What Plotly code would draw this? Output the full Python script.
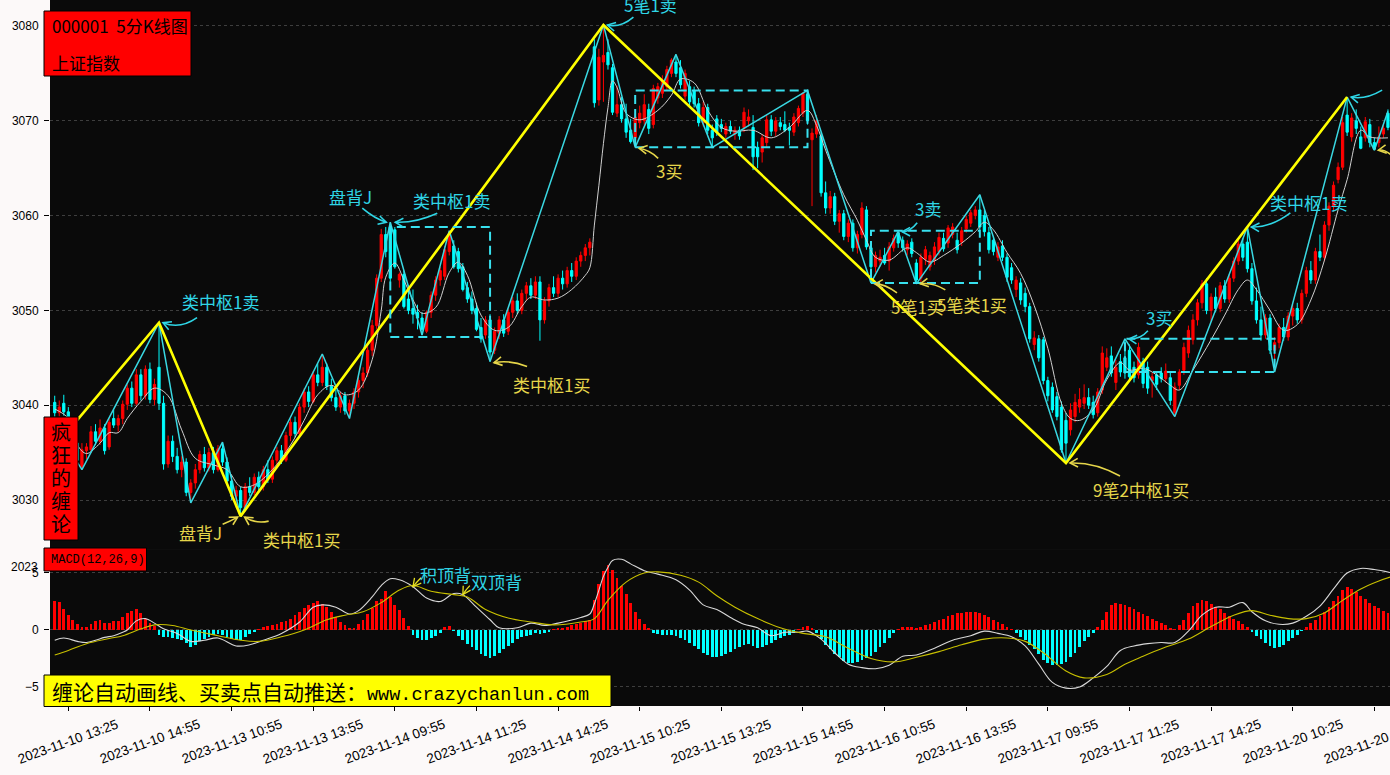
import math
import plotly.graph_objects as go

# ---------------- data ----------------
tick_labels = ["2023-11-10 13:25", "2023-11-10 14:55", "2023-11-13 10:55", "2023-11-13 13:55",
               "2023-11-14 09:55", "2023-11-14 11:25", "2023-11-14 14:25", "2023-11-15 10:25",
               "2023-11-15 13:25", "2023-11-15 14:55", "2023-11-16 10:55", "2023-11-16 13:55",
               "2023-11-17 09:55", "2023-11-17 11:25", "2023-11-17 14:25", "2023-11-20 10:25",
               "2023-11-20 13:25"]

opens = [
    3040.3, 3039.2, 3040.2, 3039.3, 3037.8, 3036.0, 3033.5, 3035.2, 3035.3, 3037.2,
    3036.2, 3037.6, 3035.6, 3038.6, 3037.9, 3038.6, 3040.1, 3041.8, 3040.2, 3043.2,
    3041.0, 3043.8, 3040.6, 3044.0, 3040.2, 3033.8, 3036.2, 3034.6, 3033.2, 3034.0,
    3030.8, 3031.8, 3033.2, 3034.8, 3033.4, 3035.0, 3033.2, 3035.4, 3034.0, 3032.0,
    3030.4, 3031.0, 3029.2, 3031.4, 3030.8, 3032.4, 3031.4, 3033.2, 3032.2, 3034.2,
    3035.2, 3034.2, 3036.8, 3038.2, 3037.0, 3039.8, 3041.4, 3040.4, 3043.2, 3042.4,
    3044.0, 3042.0, 3040.8, 3039.8, 3041.0, 3039.4, 3040.2, 3041.4, 3042.6, 3043.4,
    3045.8, 3048.4, 3053.4, 3058.0, 3058.8, 3058.5, 3053.2, 3053.8, 3051.2, 3050.2,
    3049.8, 3049.2, 3047.8, 3049.8, 3051.6, 3053.2, 3053.6, 3056.2, 3056.8, 3056.2,
    3054.6, 3052.4, 3051.2, 3050.2, 3048.2, 3047.4, 3049.0, 3045.8, 3047.6, 3049.0,
    3047.8, 3049.8, 3051.0, 3050.0, 3051.8, 3052.6, 3051.6, 3053.0, 3049.0, 3051.0,
    3052.4, 3051.8, 3053.4, 3052.8, 3054.2, 3053.6, 3055.2, 3055.8, 3056.6, 3077.8,
    3072.2, 3076.2, 3077.2, 3075.6, 3070.8, 3071.7, 3070.2, 3069.0, 3068.2, 3069.8,
    3070.0, 3071.2, 3069.6, 3072.4, 3072.9, 3073.6, 3075.0, 3076.2, 3075.6, 3072.6,
    3073.6, 3073.2, 3071.8, 3069.8, 3071.4, 3069.0, 3070.2, 3069.6, 3068.6, 3069.4,
    3068.6, 3069.0, 3069.3, 3070.0, 3069.3, 3067.2, 3066.7, 3067.7, 3070.1, 3068.9,
    3069.8, 3069.6, 3069.3, 3068.8, 3069.8, 3070.8, 3072.8, 3068.0, 3068.6, 3068.4,
    3062.4, 3060.8, 3062.0, 3059.4, 3060.2, 3057.8, 3059.2, 3056.6, 3058.0, 3060.6,
    3056.6, 3054.6, 3055.2, 3055.8, 3055.2, 3056.6, 3058.2, 3057.4, 3056.4, 3057.2,
    3055.0, 3053.4, 3055.4, 3054.6, 3055.3, 3056.2, 3057.6, 3057.1, 3058.0, 3057.4,
    3057.2, 3058.6, 3059.2, 3060.0, 3060.6, 3060.0, 3058.2, 3057.4, 3055.6, 3056.8,
    3055.6, 3054.5, 3052.2, 3052.9, 3051.8, 3050.4, 3046.4, 3047.0, 3046.9, 3042.6,
    3041.9, 3040.9, 3039.8, 3038.4, 3037.4, 3038.8, 3039.8, 3040.2, 3040.8, 3040.3,
    3039.2, 3041.6, 3044.0, 3045.2, 3042.4, 3044.6, 3045.0, 3045.8, 3044.0, 3043.2,
    3044.6, 3044.0, 3042.6, 3043.2, 3043.4, 3042.8, 3042.9, 3039.2, 3042.1, 3043.7,
    3045.5, 3046.9, 3049.0, 3050.8, 3052.8, 3050.0, 3051.4, 3050.2, 3052.6, 3051.2,
    3053.4, 3055.2, 3057.0, 3057.2, 3054.4, 3051.0, 3049.0, 3047.4, 3049.2, 3045.8,
    3046.6, 3048.2, 3047.2, 3049.4, 3050.2, 3049.0, 3051.8, 3054.2, 3053.2, 3056.2,
    3055.6, 3059.0, 3061.0, 3063.8, 3065.1, 3070.6, 3068.3, 3070.0, 3068.3, 3068.2,
    3069.6, 3067.7, 3067.7, 3068.6, 3070.8, 3069.3]

highs = [
    3041.0, 3040.5, 3041.1, 3039.8, 3038.2, 3036.4, 3036.0, 3036.0, 3037.8, 3038.0,
    3038.5, 3038.0, 3038.6, 3039.5, 3039.0, 3040.5, 3042.2, 3042.5, 3043.8, 3043.8,
    3044.2, 3044.5, 3042.8, 3048.7, 3041.0, 3036.8, 3036.8, 3035.5, 3034.6, 3034.4,
    3032.2, 3033.8, 3035.2, 3035.6, 3035.5, 3035.6, 3035.8, 3036.1, 3034.5, 3032.6,
    3031.5, 3031.4, 3031.8, 3032.4, 3032.8, 3033.0, 3033.6, 3034.2, 3034.6, 3035.6,
    3035.8, 3037.2, 3038.6, 3038.8, 3040.2, 3041.8, 3042.0, 3043.6, 3044.4, 3045.4,
    3044.4, 3042.8, 3041.6, 3041.4, 3041.4, 3040.6, 3041.8, 3043.0, 3044.0, 3046.2,
    3049.0, 3053.8, 3058.6, 3058.8, 3059.3, 3058.8, 3054.0, 3054.2, 3052.6, 3052.2,
    3050.6, 3049.8, 3050.0, 3052.0, 3053.6, 3054.6, 3056.8, 3058.4, 3057.4, 3056.6,
    3055.0, 3053.0, 3052.0, 3050.8, 3049.2, 3049.4, 3049.6, 3048.2, 3049.4, 3049.6,
    3050.2, 3051.4, 3051.8, 3052.2, 3053.0, 3053.4, 3053.6, 3053.6, 3051.4, 3052.8,
    3053.6, 3053.8, 3054.2, 3054.6, 3055.0, 3055.6, 3056.2, 3057.0, 3057.6, 3078.6,
    3077.6, 3080.1, 3078.6, 3076.0, 3073.7, 3072.5, 3071.8, 3070.2, 3070.8, 3071.6,
    3072.8, 3071.8, 3073.8, 3074.0, 3074.8, 3075.8, 3076.6, 3077.0, 3076.4, 3075.4,
    3074.2, 3073.6, 3072.4, 3072.0, 3071.8, 3069.6, 3070.6, 3070.2, 3069.8, 3070.0,
    3069.4, 3069.4, 3071.4, 3071.2, 3070.6, 3067.8, 3068.6, 3070.6, 3070.6, 3070.4,
    3070.4, 3071.0, 3069.8, 3070.8, 3071.6, 3073.0, 3073.2, 3069.2, 3070.6, 3068.8,
    3063.6, 3062.6, 3062.4, 3060.6, 3060.6, 3059.6, 3059.6, 3058.4, 3061.4, 3061.0,
    3057.0, 3056.2, 3056.4, 3056.6, 3057.2, 3058.0, 3058.3, 3057.8, 3057.4, 3057.6,
    3055.4, 3056.0, 3056.8, 3056.2, 3057.2, 3058.2, 3058.2, 3059.0, 3059.2, 3058.2,
    3058.8, 3060.0, 3060.6, 3061.0, 3062.2, 3060.6, 3058.8, 3057.8, 3057.2, 3057.4,
    3056.0, 3055.0, 3053.6, 3053.4, 3052.4, 3050.8, 3047.8, 3047.4, 3047.2, 3043.0,
    3042.4, 3041.4, 3040.4, 3039.2, 3040.2, 3041.2, 3041.8, 3042.2, 3041.8, 3041.0,
    3041.8, 3046.2, 3046.0, 3046.2, 3044.8, 3045.4, 3047.0, 3046.4, 3044.6, 3046.6,
    3045.0, 3044.6, 3043.4, 3043.6, 3044.0, 3044.4, 3043.4, 3042.4, 3043.8, 3046.6,
    3048.4, 3049.6, 3051.2, 3053.2, 3053.4, 3051.8, 3052.4, 3053.0, 3053.2, 3053.8,
    3055.6, 3057.4, 3057.6, 3058.8, 3055.0, 3052.4, 3050.4, 3049.6, 3049.6, 3047.2,
    3048.6, 3049.2, 3049.8, 3050.6, 3050.8, 3052.2, 3054.6, 3055.2, 3056.6, 3058.0,
    3059.4, 3061.4, 3063.6, 3065.6, 3070.4, 3072.5, 3070.8, 3071.2, 3069.4, 3070.4,
    3070.2, 3068.2, 3069.4, 3069.6, 3071.2, 3070.8]

lows = [
    3038.8, 3038.8, 3038.9, 3037.5, 3035.8, 3033.8, 3033.2, 3034.3, 3035.0, 3035.8,
    3035.8, 3034.8, 3035.3, 3037.6, 3037.2, 3038.0, 3039.5, 3039.8, 3040.0, 3040.5,
    3040.6, 3040.2, 3040.0, 3039.5, 3033.2, 3033.4, 3034.0, 3032.8, 3032.4, 3030.4,
    3029.7, 3031.2, 3032.8, 3033.0, 3033.0, 3032.8, 3033.0, 3033.6, 3031.6, 3030.0,
    3029.2, 3028.3, 3028.8, 3030.4, 3030.5, 3031.0, 3031.0, 3031.8, 3031.8, 3033.6,
    3033.8, 3034.0, 3036.2, 3036.6, 3036.8, 3039.2, 3039.8, 3040.2, 3042.0, 3042.0,
    3041.6, 3040.4, 3039.4, 3039.2, 3039.0, 3038.6, 3039.6, 3040.8, 3041.8, 3043.0,
    3045.2, 3048.0, 3053.0, 3055.6, 3053.0, 3054.4, 3052.4, 3050.2, 3049.6, 3048.6,
    3048.0, 3047.4, 3047.6, 3049.2, 3051.0, 3052.6, 3053.2, 3055.8, 3054.4, 3054.0,
    3052.0, 3050.8, 3049.6, 3047.8, 3046.6, 3047.0, 3044.6, 3045.4, 3047.0, 3047.2,
    3047.4, 3049.2, 3049.6, 3049.6, 3051.0, 3051.2, 3051.2, 3046.8, 3048.6, 3050.4,
    3051.4, 3051.4, 3052.2, 3052.4, 3053.0, 3053.2, 3054.6, 3055.2, 3055.8, 3071.4,
    3071.6, 3072.0, 3075.4, 3070.6, 3070.4, 3069.8, 3068.2, 3067.6, 3067.2, 3069.2,
    3069.6, 3068.6, 3069.2, 3071.8, 3072.4, 3073.2, 3074.6, 3074.6, 3073.4, 3072.2,
    3071.6, 3071.4, 3069.4, 3069.4, 3068.6, 3067.2, 3068.4, 3068.8, 3068.2, 3068.6,
    3068.0, 3068.0, 3068.8, 3069.4, 3064.8, 3065.0, 3065.6, 3067.2, 3068.4, 3068.4,
    3069.0, 3068.8, 3067.4, 3068.4, 3069.4, 3070.4, 3069.6, 3061.0, 3068.2, 3062.0,
    3060.2, 3060.2, 3059.0, 3058.2, 3057.4, 3057.2, 3056.2, 3056.0, 3057.6, 3056.4,
    3052.9, 3054.0, 3054.6, 3054.8, 3054.2, 3056.2, 3056.6, 3056.2, 3055.8, 3055.6,
    3052.8, 3053.0, 3054.8, 3054.2, 3054.8, 3055.8, 3056.2, 3056.6, 3057.6, 3056.0,
    3056.8, 3058.2, 3058.8, 3059.6, 3058.4, 3057.8, 3056.0, 3055.8, 3055.2, 3055.2,
    3053.0, 3052.8, 3051.4, 3050.6, 3049.8, 3046.6, 3045.8, 3044.6, 3042.2, 3040.4,
    3039.2, 3038.4, 3035.0, 3033.9, 3036.8, 3038.2, 3039.2, 3039.6, 3039.6, 3038.6,
    3038.8, 3041.2, 3043.6, 3043.0, 3041.6, 3043.0, 3042.8, 3042.6, 3042.4, 3042.8,
    3041.8, 3041.2, 3040.8, 3041.6, 3042.4, 3042.4, 3040.0, 3038.8, 3041.6, 3043.2,
    3045.0, 3046.4, 3048.4, 3050.2, 3049.6, 3048.8, 3049.8, 3049.8, 3050.8, 3050.8,
    3053.0, 3054.8, 3055.2, 3054.0, 3050.6, 3048.6, 3046.8, 3047.0, 3045.4, 3043.5,
    3046.0, 3046.8, 3046.8, 3048.4, 3048.6, 3048.6, 3051.4, 3052.8, 3052.8, 3055.2,
    3055.2, 3058.4, 3060.4, 3063.4, 3064.8, 3068.4, 3067.8, 3068.6, 3067.0, 3067.8,
    3067.2, 3066.9, 3067.2, 3068.2, 3069.0, 3069.0]

closes = [
    3039.2, 3039.8, 3039.3, 3037.8, 3036.0, 3034.2, 3035.3, 3035.6, 3037.2, 3036.2,
    3037.6, 3035.2, 3038.2, 3037.9, 3038.6, 3040.1, 3041.8, 3040.2, 3043.2, 3041.0,
    3043.8, 3040.6, 3042.2, 3040.2, 3033.8, 3036.2, 3034.6, 3033.2, 3034.0, 3030.8,
    3031.8, 3033.2, 3034.8, 3033.4, 3035.0, 3033.2, 3035.4, 3034.0, 3032.0, 3030.4,
    3031.0, 3029.2, 3031.4, 3030.8, 3032.4, 3031.4, 3033.2, 3032.2, 3034.2, 3035.2,
    3034.2, 3036.8, 3038.2, 3037.0, 3039.8, 3041.4, 3040.4, 3043.2, 3042.4, 3044.0,
    3042.0, 3040.8, 3039.8, 3041.0, 3039.4, 3040.2, 3041.4, 3042.6, 3043.4, 3045.8,
    3048.4, 3053.4, 3058.0, 3056.2, 3053.4, 3054.6, 3053.8, 3050.4, 3050.0, 3049.6,
    3049.2, 3048.0, 3049.8, 3051.6, 3053.2, 3054.2, 3056.4, 3058.0, 3054.6, 3054.4,
    3052.2, 3051.2, 3050.0, 3048.0, 3047.0, 3049.0, 3045.6, 3047.8, 3049.0, 3047.6,
    3049.8, 3051.0, 3050.0, 3051.8, 3052.6, 3051.6, 3053.0, 3049.0, 3051.0, 3052.4,
    3051.8, 3053.4, 3052.8, 3054.2, 3053.6, 3055.2, 3055.8, 3056.6, 3057.2, 3071.9,
    3076.7, 3076.9, 3075.9, 3070.9, 3071.7, 3070.2, 3068.8, 3067.8, 3070.4, 3070.8,
    3071.7, 3069.2, 3073.4, 3073.6, 3074.3, 3075.4, 3076.4, 3075.0, 3073.8, 3075.0,
    3072.0, 3071.8, 3069.8, 3071.4, 3069.0, 3068.2, 3068.8, 3069.2, 3069.4, 3068.9,
    3069.0, 3068.4, 3070.9, 3070.4, 3066.2, 3066.2, 3068.2, 3070.1, 3068.9, 3070.0,
    3069.4, 3069.0, 3069.0, 3070.4, 3071.3, 3072.9, 3070.0, 3068.7, 3070.0, 3062.4,
    3060.8, 3062.0, 3059.4, 3060.2, 3057.8, 3059.2, 3056.6, 3058.0, 3060.8, 3056.7,
    3054.6, 3055.8, 3055.6, 3055.0, 3056.7, 3057.6, 3057.1, 3056.6, 3057.0, 3056.0,
    3053.2, 3055.6, 3056.4, 3055.8, 3056.7, 3057.7, 3056.5, 3058.7, 3058.8, 3056.4,
    3058.4, 3059.6, 3060.3, 3060.6, 3058.8, 3058.3, 3056.4, 3056.2, 3056.7, 3055.6,
    3053.5, 3053.2, 3053.2, 3051.1, 3050.4, 3047.0, 3047.1, 3045.0, 3042.6, 3041.0,
    3039.5, 3038.8, 3035.3, 3036.0, 3039.5, 3040.3, 3040.6, 3040.8, 3040.0, 3039.0,
    3041.4, 3045.5, 3045.0, 3043.4, 3044.0, 3043.5, 3043.4, 3043.0, 3042.9, 3046.1,
    3042.3, 3041.8, 3043.0, 3042.2, 3042.8, 3043.6, 3040.5, 3041.9, 3043.5, 3046.1,
    3047.9, 3049.0, 3050.8, 3052.8, 3050.0, 3051.4, 3050.2, 3052.6, 3051.2, 3053.4,
    3055.2, 3057.0, 3055.6, 3054.4, 3051.0, 3049.0, 3047.4, 3049.2, 3045.8, 3046.6,
    3048.2, 3047.2, 3049.4, 3050.2, 3049.0, 3051.8, 3054.2, 3053.2, 3056.2, 3055.6,
    3059.0, 3061.0, 3063.2, 3065.1, 3069.8, 3068.8, 3070.3, 3069.2, 3067.1, 3069.9,
    3067.7, 3067.0, 3068.3, 3069.2, 3069.3, 3070.4]

# 5-bar moving average at sample bars
ma5_idx = [0, 3, 5, 7, 10, 12, 14, 16, 19, 22, 25, 28, 31, 35, 38, 41, 44, 48, 52, 55, 58, 61, 64, 67,
           70, 72, 73, 75, 77, 79, 81, 84, 87, 89, 91, 94, 97, 100, 103, 105, 108, 111, 114, 117, 118,
           119, 120, 121, 122, 123, 124, 126, 129, 133, 136, 138, 141, 144, 147, 150, 154, 158, 162,
           166, 168, 170, 174, 177, 179, 181, 184, 188, 190, 193, 196, 200, 203, 205, 207, 210, 213,
           216, 219, 222, 224, 226, 229, 232, 235, 237, 240, 243, 246, 248, 251, 255, 258, 261, 263,
           265, 268, 271, 274, 277, 280, 283, 285, 288, 290, 294]
ma5_val = [3039.6, 3038.6, 3035.8, 3034.9, 3036.0, 3037.1, 3037.1, 3038.6, 3040.4, 3041.8, 3041.0,
           3037.4, 3034.4, 3033.7, 3033.2, 3031.4, 3031.6, 3033.2, 3035.8, 3038.4, 3041.1, 3042.1,
           3041.1, 3041.6, 3044.8, 3050.0, 3053.5, 3055.0, 3053.2, 3051.1, 3049.7, 3050.3, 3054.0,
           3055.1, 3053.7, 3049.5, 3047.9, 3048.2, 3050.4, 3051.4, 3051.1, 3051.3, 3052.2, 3053.7,
           3054.5, 3059.0, 3063.2, 3067.6, 3071.4, 3074.2, 3073.5, 3070.8, 3070.1, 3071.1, 3072.7,
           3074.4, 3074.0, 3071.1, 3069.3, 3068.9, 3069.0, 3068.2, 3069.3, 3071.1, 3069.5, 3066.9,
           3062.2, 3059.5, 3057.4, 3055.6, 3055.3, 3056.6, 3056.1, 3055.1, 3055.8, 3057.1, 3058.3,
           3059.3, 3058.5, 3056.1, 3053.9, 3050.5, 3046.0, 3040.2, 3038.6, 3038.4, 3039.5, 3042.7,
           3044.5, 3043.7, 3043.9, 3043.2, 3042.1, 3041.6, 3043.7, 3046.9, 3049.5, 3052.2, 3053.2,
           3052.2, 3050.0, 3047.9, 3048.5, 3051.1, 3055.3, 3060.6, 3063.8, 3069.0, 3068.3, 3068.2]

# strokes (bi) and segments (xianduan)
bi_idx = [0, 6, 23, 30, 37, 41, 59, 65, 74, 81, 87, 96, 121, 128, 137, 145, 166, 180, 186, 190,
          204, 223, 236, 247, 263, 269, 285, 291, 294]
bi_val = [3037.8, 3033.2, 3048.7, 3029.7, 3036.1, 3028.3, 3045.4, 3038.6, 3059.3, 3047.4, 3058.4,
          3044.6, 3080.1, 3067.2, 3077.0, 3067.2, 3073.2, 3052.9, 3058.3, 3052.8, 3062.2, 3033.9,
          3047.0, 3038.8, 3058.8, 3043.5, 3072.5, 3066.9, 3071.0]
seg_idx = [0, 23, 41, 121, 223, 285]
seg_val = [3035.6, 3048.7, 3028.3, 3080.1, 3033.9, 3072.5]

# pivot zones (zhongshu)
zs_x0 = [74, 128, 180, 236]
zs_x1 = [96, 166, 204, 269]
zs_lo = [3047.2, 3067.2, 3052.9, 3043.5]
zs_hi = [3058.8, 3073.2, 3058.4, 3047.0]

# MACD(12,26,9)
macd_hist = [
    2.57, 2.45, 1.84, 1.3, 0.88, 0.5, 0.26, 0.3, 0.5, 0.8,
    0.85, 0.65, 0.65, 0.8, 0.8, 1.15, 1.5, 1.7, 1.8, 1.45,
    0.95, 0.6, 0.35, -0.4, -0.6, -0.6, -0.7, -0.8, -0.9, -1.1,
    -1.5, -1.3, -1.0, -0.8, -0.6, -0.45, -0.35, -0.45, -0.6, -0.75,
    -0.9, -0.85, -0.6, -0.35, -0.15, 0.1, 0.25, 0.35, 0.45, 0.55,
    0.7, 0.8, 1.0, 1.3, 1.6, 1.9, 2.2, 2.4, 2.5, 2.3,
    2.0, 1.6, 1.1, 0.7, 0.4, 0.2, 0.2, 0.5, 0.9, 1.4,
    1.9, 2.5, 2.7, 3.4, 2.9, 2.2, 1.75, 1.05, 0.35, -0.45,
    -0.7, -0.9, -0.85, -0.7, -0.5, -0.3, 0.25, 0.35, -0.1, -0.5,
    -0.9, -1.2, -1.5, -1.8, -2.1, -2.3, -2.5, -2.3, -2.0, -1.7,
    -1.4, -1.1, -0.8, -0.6, -0.5, -0.4, -0.3, -0.35, -0.3, -0.15,
    0.05, 0.15, 0.2, 0.3, 0.4, 0.5, 0.6, 0.75, 0.9, 2.6,
    4.0, 5.2, 5.7, 5.3, 4.6, 3.9, 3.2, 2.4, 1.6, 1.0,
    0.5, 0.15, -0.3, -0.35, -0.4, -0.4, -0.45, -0.5, -0.7, -0.9,
    -1.1, -1.4, -1.7, -2.0, -2.2, -2.4, -2.4, -2.3, -2.1, -1.9,
    -1.7, -1.5, -1.3, -1.2, -1.4, -1.6, -1.5, -1.3, -1.1, -0.9,
    -0.7, -0.55, -0.45, -0.25, 0.1, 0.3, 0.35, 0.2, -0.3, -0.8,
    -1.3, -1.7, -2.1, -2.4, -2.7, -2.9, -2.9, -2.8, -2.6, -2.5,
    -2.3, -1.9, -1.5, -1.1, -0.7, -0.3, 0.1, 0.25, 0.3, 0.3,
    0.2, 0.3, 0.45, 0.55, 0.7, 0.9, 1.0, 1.2, 1.35, 1.45,
    1.5, 1.55, 1.6, 1.6, 1.5, 1.3, 1.1, 0.9, 0.7, 0.5,
    0.3, 0.1, -0.3, -0.6, -0.9, -1.3, -1.7, -2.1, -2.6, -2.9,
    -3.1, -3.1, -3.0, -2.8, -2.4, -2.0, -1.5, -1.0, -0.6, -0.3,
    0.3, 0.9, 1.6, 2.2, 2.4, 2.3, 2.2, 2.0, 1.8, 1.6,
    1.4, 1.2, 1.0, 0.8, 0.6, 0.4, 0.2, 0.1, 0.4, 0.9,
    1.5, 2.1, 2.4, 2.6, 2.5, 2.3, 2.0, 1.8, 1.5, 1.2,
    1.0, 0.8, 0.5, 0.3, -0.2, -0.5, -0.8, -1.1, -1.4, -1.6,
    -1.5, -1.3, -1.0, -0.7, -0.4, -0.1, 0.3, 0.6, 0.9, 1.2,
    1.6, 2.0, 2.5, 3.0, 3.5, 3.8, 3.6, 3.3, 3.0, 2.7,
    2.4, 2.1, 1.9, 1.7, 1.5, 1.4]

dif_idx = [0, 2, 5, 7, 9, 11, 13, 15, 16, 18, 20, 22, 24, 27, 30, 33, 36, 40, 43, 46, 50, 54, 57, 59,
           62, 65, 67, 70, 72, 74, 76, 79, 82, 85, 88, 90, 93, 96, 98, 102, 105, 108, 111, 116, 118,
           119, 120, 121, 122, 123, 125, 127, 130, 133, 137, 140, 143, 146, 149, 152, 155, 158, 161,
           164, 166, 169, 172, 175, 178, 181, 184, 187, 190, 194, 198, 202, 205, 208, 211, 214, 217,
           220, 223, 226, 229, 232, 235, 238, 241, 244, 247, 250, 253, 256, 259, 262, 264, 267, 270,
           273, 276, 279, 282, 285, 288, 291, 295]
dif_val = [-0.9, -0.7, -1.0, -1.1, -0.9, -0.65, -0.5, -0.2, 0.0, 0.8, 1.0, 0.6, 0.1, -0.3, -1.0, -0.9,
           -0.7, -1.4, -1.3, -0.9, -0.3, 0.7, 2.0, 2.2, 2.0, 1.4, 1.7, 2.9, 3.9, 4.5, 4.4, 3.8, 2.8, 2.5,
           3.2, 3.1, 2.0, 0.9, 0.2, 0.2, 0.6, 0.4, 0.6, 1.1, 1.4, 2.3, 3.5, 4.7, 5.5, 6.1, 6.2, 5.8, 5.2,
           4.9, 4.4, 3.5, 2.2, 1.8, 1.1, 0.5, 0.2, -0.5, -0.2, -0.2, -0.1, -0.8, -2.0, -3.0, -3.3, -3.4,
           -3.1, -2.3, -2.2, -1.6, -0.9, -0.5, -0.1, -0.3, -0.6, -1.4, -3.0, -4.6, -5.1, -5.0, -4.2,
           -3.2, -1.8, -1.4, -1.2, -1.1, -1.1, -0.1, 1.3, 2.0, 2.0, 2.4, 1.6, 0.8, 0.5, 0.6, 1.2, 2.1,
           3.6, 5.0, 5.4, 5.3, 5.0]
dea_idx = [0, 3, 7, 12, 15, 19, 22, 26, 30, 36, 41, 45, 50, 55, 60, 64, 68, 72, 76, 79, 83, 88, 91,
           95, 100, 105, 110, 116, 119, 122, 126, 130, 133, 138, 142, 146, 150, 155, 160, 165, 170,
           175, 180, 185, 190, 195, 200, 205, 210, 214, 218, 223, 227, 232, 236, 240, 245, 250, 255,
           260, 264, 268, 272, 276, 280, 284, 288, 292, 295]
dea_val = [-2.2, -1.8, -1.2, -0.75, -0.5, 0.1, 0.45, 0.4, 0.0, -0.5, -0.9, -1.0, -0.6, 0.0, 0.9, 1.3,
           1.6, 2.4, 3.5, 3.9, 3.4, 3.1, 2.9, 1.8, 1.05, 0.7, 0.45, 0.7, 1.0, 2.6, 4.2, 5.0, 5.1, 4.8,
           4.2, 3.0, 2.0, 1.0, 0.2, -0.3, -0.6, -1.6, -2.5, -2.8, -2.4, -1.9, -1.3, -0.8, -0.7, -1.0,
           -2.0, -3.6, -4.2, -3.9, -3.0, -2.3, -1.5, -0.8, 0.3, 1.3, 1.7, 1.3, 1.0, 1.0, 1.5, 2.6, 3.6,
           4.3, 4.7]

# buy / sell point labels: text, bar of the stroke vertex, side
sig_text = ["类中枢1卖", "盘背J", "类中枢1买", "盘背J", "类中枢1卖", "类中枢1买", "5笔1卖", "3买",
            "3卖", "5笔1买", "5笔类1买", "9笔2中枢1买", "3买", "类中枢1卖", "5笔1卖", ""]
sig_bar = [23, 41, 41, 74, 74, 96, 121, 128, 186, 180, 190, 223, 236, 263, 285, 291]
sig_side = ["s", "b", "b", "s", "s", "b", "s", "b", "s", "b", "b", "b", "s", "s", "s", "b"]
macd_sig_text = ["积顶背", "双顶背"]
macd_sig_bar = [79, 90]

# ---------------- layout constants ----------------
W, H = 1390, 775
ML, MR, MT, MB = 50, 0, 0, 69
PW, PH = W - ML - MR, H - MT - MB
X_RANGE = [-1.04, 294.45]
Y_RANGE = [3024.73, 3082.74]
M_RANGE = [-6.67, 7.02]
SPLIT = 0.221
SX = PW / (X_RANGE[1] - X_RANGE[0])
SY = PH * (1 - SPLIT) / (Y_RANGE[1] - Y_RANGE[0])
SM = PH * SPLIT / (M_RANGE[1] - M_RANGE[0])

RED = "#ff0000"
CYAN = "#00ffff"
LINE_CYAN = "#3ad8e2"
TXT_CYAN = "#2fd6e6"
TXT_YEL = "#e6d64a"
CJK = "Noto Sans CJK SC"


def pxx(px):
    return (px - ML) / PW


def pxy(py):
    return (MT + PH - py) / PH


N = len(closes)
idx = list(range(N))
tick_idx = [3 + 18 * k for k in range(len(tick_labels))]

fig = go.Figure()
fig.add_trace(go.Candlestick(
    x=idx, open=opens, high=highs, low=lows, close=closes,
    increasing=dict(line=dict(color=RED, width=1), fillcolor=RED),
    decreasing=dict(line=dict(color=CYAN, width=1), fillcolor=CYAN),
    whiskerwidth=0, hoverinfo="skip", xaxis="x", yaxis="y"))
fig.add_trace(go.Scatter(x=ma5_idx, y=ma5_val, mode="lines", line=dict(color="#d0d0d0", width=1, shape="spline"),
                         hoverinfo="skip", xaxis="x", yaxis="y"))
fig.add_trace(go.Scatter(x=bi_idx, y=bi_val, mode="lines", line=dict(color=LINE_CYAN, width=1.5),
                         hoverinfo="skip", xaxis="x", yaxis="y"))
fig.add_trace(go.Scatter(x=seg_idx, y=seg_val, mode="lines", line=dict(color="#ffff00", width=2.6),
                         hoverinfo="skip", xaxis="x", yaxis="y"))

fig.add_trace(go.Bar(x=idx, y=macd_hist, width=0.62,
                     marker=dict(color=[RED if v >= 0 else CYAN for v in macd_hist], line=dict(width=0)),
                     hoverinfo="skip", xaxis="x2", yaxis="y2"))
fig.add_trace(go.Scatter(x=dif_idx, y=dif_val, mode="lines", line=dict(color="#d8d8d8", width=1.1, shape="spline"),
                         hoverinfo="skip", xaxis="x2", yaxis="y2"))
fig.add_trace(go.Scatter(x=dea_idx, y=dea_val, mode="lines", line=dict(color="#c8c000", width=1.1, shape="spline"),
                         hoverinfo="skip", xaxis="x2", yaxis="y2"))

shapes = []
annotations = []

# pivot zone boxes
for a, b, lo, hi in zip(zs_x0, zs_x1, zs_lo, zs_hi):
    shapes.append(dict(type="rect", xref="x", yref="y", x0=a, x1=b, y0=lo, y1=hi,
                       line=dict(color="#38e0ee", width=2, dash="9px,5px"), fillcolor="rgba(0,0,0,0)",
                       layer="above"))


def curved_arrow(i0, v0, start, ctrl, end, color, xref, yref, sy, width=1.6):
    def to_d(o):
        return (i0 + o[0] / SX, v0 - o[1] / sy)
    p0, p1, p2 = to_d(start), to_d(ctrl), to_d(end)
    shapes.append(dict(type="path", xref=xref, yref=yref, layer="above",
                       path=f"M {p0[0]},{p0[1]} Q {p1[0]},{p1[1]} {p2[0]},{p2[1]}",
                       line=dict(color=color, width=width)))
    dx, dy = end[0] - ctrl[0], end[1] - ctrl[1]
    L = math.hypot(dx, dy) or 1.0
    bx, by = -dx / L, -dy / L
    pts = []
    for s in (1, -1):
        t = 0.5 * s
        rx = bx * math.cos(t) - by * math.sin(t)
        ry = bx * math.sin(t) + by * math.cos(t)
        pts.append(to_d((end[0] + 9 * rx, end[1] + 9 * ry)))
    shapes.append(dict(type="path", xref=xref, yref=yref, layer="above",
                       path=f"M {pts[0][0]},{pts[0][1]} L {p2[0]},{p2[1]} L {pts[1][0]},{pts[1][1]}",
                       line=dict(color=color, width=width)))


# label placement in pixels relative to the stroke vertex: text centre, arrow start, control, end
sig_layout = [
    ((61, -21), (38, -5), (21, 7), (4, 0)),
    ((-40, 16), (-18, 8), (-10, 5), (-3, 1)),
    ((61, 23), (28, 5), (15, 8), (4, 1)),
    ((-40, -26), (-28, -14), (-15, -3), (-4, 0)),
    ((61, -22), (47, -9), (25, 1), (5, 0)),
    ((61, 23), (37, 5), (20, -2), (4, 1)),
    ((47, -21), (30, -8), (17, 3), (4, 0)),
    ((34, 23), (23, 11), (15, 3), (4, 1)),
    ((30, -23), (19, -9), (12, 0), (4, 0)),
    ((47, 24), (26, 10), (14, 1), (4, 1)),
    ((56, 21), (29, 6), (16, -2), (4, 0)),
    ((75, 26), (54, 13), (29, -1), (4, 0)),
    ((34, -21), (23, -8), (15, 1), (4, 0)),
    ((61, -24), (43, -14), (23, 1), (4, 0)),
    ((48, -20), (35, -7), (18, 3), (4, 0)),
    ((34, 23), (18, 6), (11, -1), (4, 0)),
]
bi_lookup = dict(zip(bi_idx, bi_val))
for txt, bar, side, lay in zip(sig_text, sig_bar, sig_side, sig_layout):
    v = bi_lookup[bar]
    col = TXT_CYAN if side == "s" else TXT_YEL
    toff, st, ct, en = lay
    curved_arrow(bar, v, st, ct, en, col, "x", "y", SY)
    if txt:
        annotations.append(dict(x=bar + toff[0] / SX, y=v - toff[1] / SY, xref="x", yref="y", text=txt,
                                showarrow=False, xanchor="center", yanchor="middle",
                                font=dict(family=CJK, size=17, color=col)))

dif_lookup = dict(zip(dif_idx, dif_val))
macd_layout = [((33, -12), (8, -9), (4, -5), (0, 0)), ((34, -13), (7, -9), (3, -5), (0, 0))]
for txt, bar, lay in zip(macd_sig_text, macd_sig_bar, macd_layout):
    v = dif_lookup[bar]
    toff, st, ct, en = lay
    curved_arrow(bar, v, st, ct, en, "#e8e020", "x2", "y2", SM, width=1.3)
    annotations.append(dict(x=bar + toff[0] / SX, y=v - toff[1] / SM, xref="x2", yref="y2", text=txt,
                            showarrow=False, xanchor="center", yanchor="middle",
                            font=dict(family=CJK, size=17, color=TXT_CYAN)))

# date labels under the MACD panel
for t, lab in zip(tick_idx, tick_labels):
    annotations.append(dict(x=t, y=pxy(741), xref="x2", yref="paper", text=lab, showarrow=False,
                            textangle=-20, xanchor="center", yanchor="middle",
                            font=dict(family="Liberation Sans", size=13.5, color="#000")))

# title box
shapes.append(dict(type="rect", xref="paper", yref="paper", x0=pxx(44), x1=pxx(191), y0=pxy(76), y1=pxy(11),
                   fillcolor="#ff0000", line=dict(color="#000", width=1), layer="above"))
annotations.append(dict(x=pxx(50), y=pxy(25), xref="paper", yref="paper",
                        text="000001\u00a0\u00a05分K线图", showarrow=False, xanchor="left", yanchor="middle",
                        font=dict(family=CJK, size=17, color="#000")))
annotations.append(dict(x=pxx(50), y=pxy(62), xref="paper", yref="paper", text="上证指数", showarrow=False,
                        xanchor="left", yanchor="middle", font=dict(family=CJK, size=17, color="#000")))

# vertical brand box
shapes.append(dict(type="rect", xref="paper", yref="paper", x0=pxx(44), x1=pxx(78), y0=pxy(540), y1=pxy(417),
                   fillcolor="#ff0000", line=dict(color="#000", width=1), layer="above"))
for ch, yy in zip("疯狂的缠论", [432, 454.5, 477, 500, 523]):
    annotations.append(dict(x=pxx(61), y=pxy(yy), xref="paper", yref="paper", text=ch, showarrow=False,
                            xanchor="center", yanchor="middle", font=dict(family=CJK, size=20, color="#000")))

# MACD title box
shapes.append(dict(type="rect", xref="paper", yref="paper", x0=pxx(44), x1=pxx(146.5), y0=pxy(571), y1=pxy(548),
                   fillcolor="#ff0000", line=dict(color="#000", width=1), layer="above"))
annotations.append(dict(x=pxx(49), y=pxy(559.5), xref="paper", yref="paper", text="MACD(12,26,9)",
                        showarrow=False, xanchor="left", yanchor="middle",
                        font=dict(family="Liberation Mono", size=12, color="#000")))

# promo box
shapes.append(dict(type="rect", xref="paper", yref="paper", x0=pxx(44), x1=pxx(611), y0=pxy(706.5), y1=pxy(675),
                   fillcolor="#ffff00", line=dict(color="#000", width=1), layer="above"))
annotations.append(dict(x=pxx(50), y=pxy(691), xref="paper", yref="paper",
                        text='缠论自动画线、买卖点自动推送：<span style="font-family:Liberation Mono;font-size:18.5px">www.crazychanlun.com</span>',
                        showarrow=False, xanchor="left", yanchor="middle",
                        font=dict(family=CJK, size=21, color="#000")))

# stray year text over the MACD axis
annotations.append(dict(x=pxx(40), y=pxy(567), xref="paper", yref="paper", text="2023", showarrow=False,
                        xanchor="right", yanchor="middle", font=dict(family="Liberation Sans", size=12, color="#000")))

axis_font = dict(family="Liberation Sans", size=12, color="#000")
fig.update_layout(
    width=W, height=H, margin=dict(l=ML, r=MR, t=MT, b=MB, autoexpand=False),
    paper_bgcolor="#fcf9f9", plot_bgcolor="#0a0a0a", showlegend=False,
    bargap=0,
    xaxis=dict(domain=[0, 1], anchor="y", range=X_RANGE, showticklabels=False, showgrid=False, zeroline=False,
               rangeslider=dict(visible=False), ticks="", fixedrange=True, automargin=False),
    yaxis=dict(domain=[SPLIT, 1], anchor="x", range=Y_RANGE, tickvals=[3030, 3040, 3050, 3060, 3070, 3080],
               ticks="outside", ticklen=5, tickcolor="#000", tickfont=axis_font, ticklabelstandoff=3,
               showgrid=True, gridcolor="#3e3e3e", griddash="dot", gridwidth=1, zeroline=False,
               automargin=False),
    xaxis2=dict(domain=[0, 1], anchor="y2", matches="x", range=X_RANGE, tickvals=tick_idx, showticklabels=False,
                ticks="outside", ticklen=4, tickcolor="#000", showgrid=False, zeroline=False, automargin=False),
    yaxis2=dict(domain=[0, SPLIT], anchor="x2", range=M_RANGE, tickvals=[-5, 0, 5], ticktext=["\u22125", "0", "5"],
                ticks="outside", ticklen=5, tickcolor="#000", tickfont=axis_font, ticklabelstandoff=3,
                showgrid=True, gridcolor="#3e3e3e", griddash="dot", gridwidth=1, zeroline=False,
                automargin=False),
    shapes=shapes, annotations=annotations,
)

fig.write_html("out.html", config={"displayModeBar": False, "staticPlot": True},
               post_script="document.body.style.margin='0';document.body.style.overflow='hidden';")
